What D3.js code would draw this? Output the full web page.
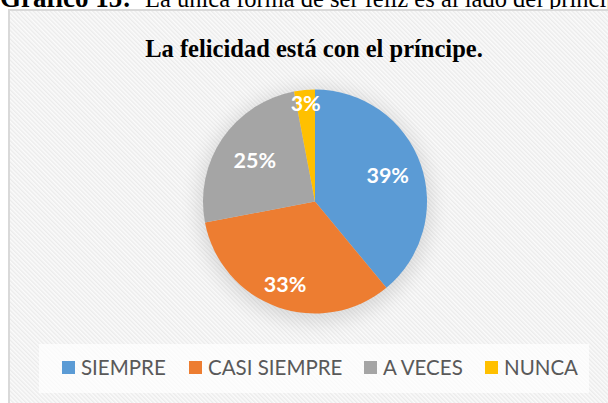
<html>
<head>
  <script src="https://cdnjs.cloudflare.com/ajax/libs/d3/7.8.5/d3.min.js"></script>
  <meta charset="UTF-8">
  <style>
  body { margin: 0; background: #fff; overflow: hidden; }
  </style>
</head>
<body>
<div id="chart"></div>
<script>

const categories = ['SIEMPRE', 'CASI SIEMPRE', 'A VECES', 'NUNCA'];
const values = [39, 33, 25, 3];
const labels = ['39%', '33%', '25%', '3%'];
const colors = ['#5b9bd5', '#ed7d31', '#a5a5a5', '#ffc000'];

const W = 608, H = 403;
const svg = d3.select('#chart').append('svg')
  .attr('width', W)
  .attr('height', H);

const defs = svg.append('defs');
const pat = defs.append('pattern')
  .attr('id', 'stripes')
  .attr('patternUnits', 'userSpaceOnUse')
  .attr('width', 3)
  .attr('height', 3)
  .attr('patternTransform', 'rotate(-45)');
pat.append('rect').attr('width', 3).attr('height', 3).attr('fill', '#fbfbfb');
pat.append('rect').attr('width', 1.4).attr('height', 3).attr('fill', '#ebebeb');

const shadow = defs.append('filter')
  .attr('id', 'glow')
  .attr('x', '-30%').attr('y', '-30%')
  .attr('width', '160%').attr('height', '160%');
shadow.append('feGaussianBlur').attr('stdDeviation', 10);

// caption above the chart (cut by the page top, as in the source)
const caption = svg.append('text')
  .attr('x', 0)
  .attr('y', 7)
  .style('font-family', '"Liberation Serif", "Times New Roman", serif')
  .style('font-size', '24.5px')
  .attr('fill', '#000');
caption.append('tspan').style('font-weight', 'bold').style('font-size', '27px').text('Gráfico 15:');
caption.append('tspan').attr('x', 145).text('La única forma de ser feliz es al lado del príncipe.');

// chart box
svg.append('rect')
  .attr('x', 9)
  .attr('y', 10)
  .attr('width', 640)
  .attr('height', 420)
  .attr('fill', 'url(#stripes)')
  .attr('stroke', '#d9d9d9')
  .attr('stroke-width', 2);

svg.append('text')
  .attr('x', 314)
  .attr('y', 57)
  .attr('text-anchor', 'middle')
  .style('font-family', '"Liberation Serif", "Times New Roman", serif')
  .style('font-size', '24.5px')
  .style('font-weight', 'bold')
  .attr('fill', '#000')
  .text('La felicidad está con el príncipe.');

const cx = 315, cy = 201.5, r = 112;

svg.append('circle')
  .attr('cx', cx)
  .attr('cy', cy + 4)
  .attr('r', r + 4)
  .attr('fill', '#000')
  .attr('opacity', 0.12)
  .attr('filter', 'url(#glow)');

const pie = d3.pie().sort(null).value(d => d);
const arc = d3.arc().innerRadius(0).outerRadius(r);
const arcs = pie(values);

const g = svg.append('g').attr('transform', `translate(${cx},${cy})`);
g.selectAll('path.slice')
  .data(arcs)
  .join('path')
  .attr('class', 'slice')
  .attr('d', arc)
  .attr('fill', (d, i) => colors[i]);

// label distance from centre (as fraction of radius), per slice
const labelR = [0.69, 0.79, 0.65, 0.885];
g.selectAll('text.lbl')
  .data(arcs)
  .join('text')
  .attr('class', 'lbl')
  .attr('transform', (d, i) => {
    const a = (d.startAngle + d.endAngle) / 2;
    const rr = r * labelR[i];
    return `translate(${rr * Math.sin(a)},${-rr * Math.cos(a)})`;
  })
  .attr('text-anchor', 'middle')
  .attr('dy', '0.36em')
  .style('font-family', 'Lato, "Open Sans", sans-serif')
  .style('font-size', '21.5px')
  .style('font-weight', 'bold')
  .attr('fill', '#fff')
  .text((d, i) => labels[i]);

// legend
svg.append('rect')
  .attr('x', 39)
  .attr('y', 344)
  .attr('width', 550)
  .attr('height', 49)
  .attr('fill', '#fff')
  .attr('opacity', 0.7);

const legendX = d3.scaleOrdinal()
  .domain(categories)
  .range([62, 189, 364, 485]);

const leg = svg.append('g').selectAll('g')
  .data(categories)
  .join('g')
  .attr('transform', d => `translate(${legendX(d)},361)`);
leg.append('rect')
  .attr('width', 13)
  .attr('height', 13)
  .attr('fill', (d, i) => colors[i]);
leg.append('text')
  .attr('x', 19)
  .attr('y', 14)
  .style('font-family', 'Lato, "Open Sans", sans-serif')
  .style('font-size', '20.5px')
  .attr('fill', '#595959')
  .text(d => d);

</script>
</body>
</html>
